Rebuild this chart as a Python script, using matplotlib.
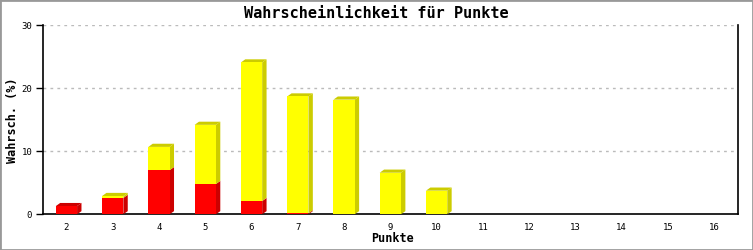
import matplotlib
matplotlib.use("Agg")
import matplotlib.pyplot as plt
from matplotlib.patches import Polygon, Rectangle
import numpy as np

# ---------------------------
# Data
# ---------------------------
punkte = [2, 3, 4, 5, 6, 7, 8, 9, 10, 11, 12, 13, 14, 15, 16]
rot = [1.3, 2.6, 7.0, 4.8, 2.1, 0.15, 0, 0, 0, 0, 0, 0, 0, 0, 0]
gelb = [0, 0.3, 3.7, 9.4, 22.0, 18.55, 18.2, 6.6, 3.75, 0, 0, 0, 0, 0, 0]

font = "DejaVu Sans Mono"
width = 0.46
dx, dy = 0.095, 0.5   # pseudo-3d depth in data units

fig = plt.figure(figsize=(7.53, 2.5), dpi=100)
ax = fig.add_axes([0.0575, 0.1428, 0.923, 0.756])

x = np.array(punkte, dtype=float)
rot = np.array(rot)
gelb = np.array(gelb)


def draw_segment(xc, y0, y1, dark, top):
    x0 = xc - width / 2
    x1 = xc + width / 2
    ax.add_patch(Polygon([(x1, y0), (x1 + dx, y0 + dy), (x1 + dx, y1 + dy), (x1, y1)],
                         closed=True, facecolor=dark, edgecolor="none", zorder=3))
    if top:
        ax.add_patch(Polygon([(x0, y1), (x0 + dx, y1 + dy), (x1 + dx, y1 + dy), (x1, y1)],
                             closed=True, facecolor=dark, edgecolor="none", zorder=3))


for xi, r, g in zip(x, rot, gelb):
    if r > 0:
        draw_segment(xi, 0, r, "#cc0000", g == 0)
    if g > 0:
        draw_segment(xi, r, r + g, "#cccc00", True)

ax.bar(x, rot, width=width, color="#ff0000", zorder=4)
ax.bar(x, gelb, width=width, bottom=rot, color="#ffff00", zorder=4)

ax.set_xlim(1.5, 16.52)
ax.set_ylim(0, 30)
ax.set_xticks(punkte)
ax.set_xticklabels([str(p) for p in punkte], fontfamily=font, fontsize=6.5)
ax.set_yticks([0, 10, 20, 30])
ax.set_yticklabels(["0", "10", "20", "30"], fontfamily=font, fontsize=6.5)
ax.tick_params(axis="x", length=0, pad=6)
ax.tick_params(axis="y", length=5, width=1, pad=3)

for v in [10, 20, 30]:
    ax.axhline(v, color="#bbbbbb", linestyle=(0, (2, 3)), linewidth=1, zorder=1)

ax.spines["top"].set_visible(False)
for s in ["left", "right", "bottom"]:
    ax.spines[s].set_linewidth(1.2)

fig.text(0.5, 0.945, "Wahrscheinlichkeit für Punkte", ha="center", va="center",
         fontfamily=font, fontsize=11, fontweight="bold")
fig.text(0.5213, 0.044, "Punkte", ha="center", va="center",
         fontfamily=font, fontsize=8.5, fontweight="bold")
fig.text(0.017, 0.52, "Wahrsch. (%)", ha="center", va="center", rotation=90,
         fontfamily=font, fontsize=8.5, fontweight="bold")

fig.patches.append(Rectangle((0, 0), 1, 1, transform=fig.transFigure, fill=False,
                             edgecolor="#999999", linewidth=2))

fig.savefig("out.png", dpi=100)
